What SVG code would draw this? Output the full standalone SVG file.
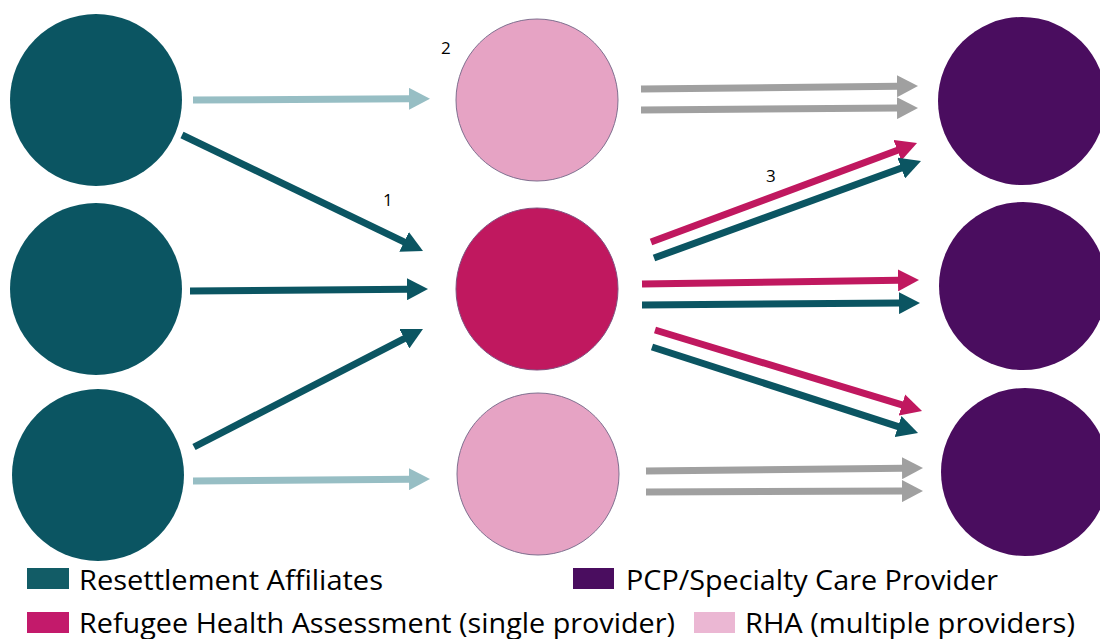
<svg xmlns="http://www.w3.org/2000/svg" width="1100" height="639" viewBox="0 0 1100 639">
<style>
.ln{fill:none;stroke-width:7;stroke-linecap:butt}
.teal{fill:#0b5562}
.lt{stroke:#97bec4}
.tl{stroke:#0b5562}
.gr{stroke:#a0a0a0}
.mg{stroke:#c0185f}
.num{font-family:"Open Sans","Liberation Sans",sans-serif;font-size:17px;fill:#000}
.leg{font-family:"Open Sans","Liberation Sans",sans-serif;font-size:27px;fill:#000}
</style>
<defs>
<marker id="hLt" markerUnits="userSpaceOnUse" markerWidth="22" markerHeight="22" refX="1" refY="11" orient="auto"><path d="M0,0 L21,11 L0,22 z" fill="#97bec4"/></marker>
<marker id="hTl" markerUnits="userSpaceOnUse" markerWidth="22" markerHeight="22" refX="1" refY="11" orient="auto"><path d="M0,0 L21,11 L0,22 z" fill="#0b5562"/></marker>
<marker id="hGr" markerUnits="userSpaceOnUse" markerWidth="22" markerHeight="22" refX="1" refY="11" orient="auto"><path d="M0,0 L21,11 L0,22 z" fill="#a0a0a0"/></marker>
<marker id="hMg" markerUnits="userSpaceOnUse" markerWidth="22" markerHeight="22" refX="1" refY="11" orient="auto"><path d="M0,0 L21,11 L0,22 z" fill="#c0185f"/></marker>
</defs>
<rect width="1100" height="639" fill="#fff"/>
<g id="left-nodes">
<g id="ra1"><circle cx="96" cy="100" r="86" class="teal"/></g>
<g id="ra2"><circle cx="96" cy="289" r="86" class="teal"/></g>
<g id="ra3"><circle cx="98" cy="475" r="86" class="teal"/></g>
</g>
<g id="mid-nodes">
<g id="rha-multi-1"><circle cx="537" cy="100" r="81" fill="#e6a3c4" stroke="#7f6f8f" stroke-width="1"/></g>
<g id="rha-single"><circle cx="537" cy="289" r="81" fill="#c0185f" stroke="#7f4f7f" stroke-width="1"/></g>
<g id="rha-multi-2"><circle cx="538" cy="474" r="81" fill="#e6a3c4" stroke="#7f6f8f" stroke-width="1"/></g>
</g>
<g id="right-nodes">
<g id="pcp1"><circle cx="1022" cy="101" r="84" fill="#4a0d5f"/></g>
<g id="pcp2"><circle cx="1023" cy="286" r="84" fill="#4a0d5f"/></g>
<g id="pcp3"><circle cx="1025" cy="472" r="84" fill="#4a0d5f"/></g>
</g>
<g id="connectors">
<line class="ln lt" x1="193" y1="100" x2="410" y2="98.8" marker-end="url(#hLt)"/>
<line class="ln tl" x1="182" y1="135" x2="405" y2="242.3" marker-end="url(#hTl)"/>
<line class="ln tl" x1="190" y1="291" x2="408" y2="289.2" marker-end="url(#hTl)"/>
<line class="ln tl" x1="194" y1="447" x2="405.2" y2="338.2" marker-end="url(#hTl)"/>
<line class="ln lt" x1="193" y1="481" x2="410" y2="479.2" marker-end="url(#hLt)"/>
<line class="ln gr" x1="641" y1="89" x2="898" y2="86.2" marker-end="url(#hGr)"/>
<line class="ln gr" x1="641" y1="110" x2="898" y2="108.1" marker-end="url(#hGr)"/>
<line class="ln mg" x1="651" y1="242" x2="898.3" y2="150" marker-end="url(#hMg)"/>
<line class="ln tl" x1="654" y1="258" x2="902.2" y2="167.8" marker-end="url(#hTl)"/>
<line class="ln mg" x1="642" y1="284" x2="899" y2="280.3" marker-end="url(#hMg)"/>
<line class="ln tl" x1="642" y1="305" x2="900" y2="303.1" marker-end="url(#hTl)"/>
<line class="ln mg" x1="655" y1="330" x2="902.9" y2="405.2" marker-end="url(#hMg)"/>
<line class="ln tl" x1="652" y1="347" x2="899" y2="426.8" marker-end="url(#hTl)"/>
<line class="ln gr" x1="646" y1="471" x2="903" y2="468.2" marker-end="url(#hGr)"/>
<line class="ln gr" x1="646" y1="492" x2="903" y2="491.1" marker-end="url(#hGr)"/>
</g>
<g id="labels">
<text class="num" x="441" y="54">2</text>
<text class="num" x="383" y="206">1</text>
<text class="num" x="766" y="182">3</text>
</g>
<g id="legend">
<rect x="27" y="568" width="42" height="21" fill="#125c66"/>
<text class="leg" x="79" y="590" textLength="304" lengthAdjust="spacingAndGlyphs">Resettlement Affiliates</text>
<rect x="573" y="568" width="41" height="21" fill="#4a0d5f"/>
<text class="leg" x="626" y="590" textLength="372" lengthAdjust="spacingAndGlyphs">PCP/Specialty Care Provider</text>
<rect x="27" y="612" width="42" height="21" fill="#c31a6b"/>
<text class="leg" x="79" y="633" textLength="596" lengthAdjust="spacingAndGlyphs">Refugee Health Assessment (single provider)</text>
<rect x="694" y="612" width="41" height="21" fill="#ebb7d3"/>
<text class="leg" x="745" y="633" textLength="330" lengthAdjust="spacingAndGlyphs">RHA (multiple providers)</text>
</g>
</svg>
